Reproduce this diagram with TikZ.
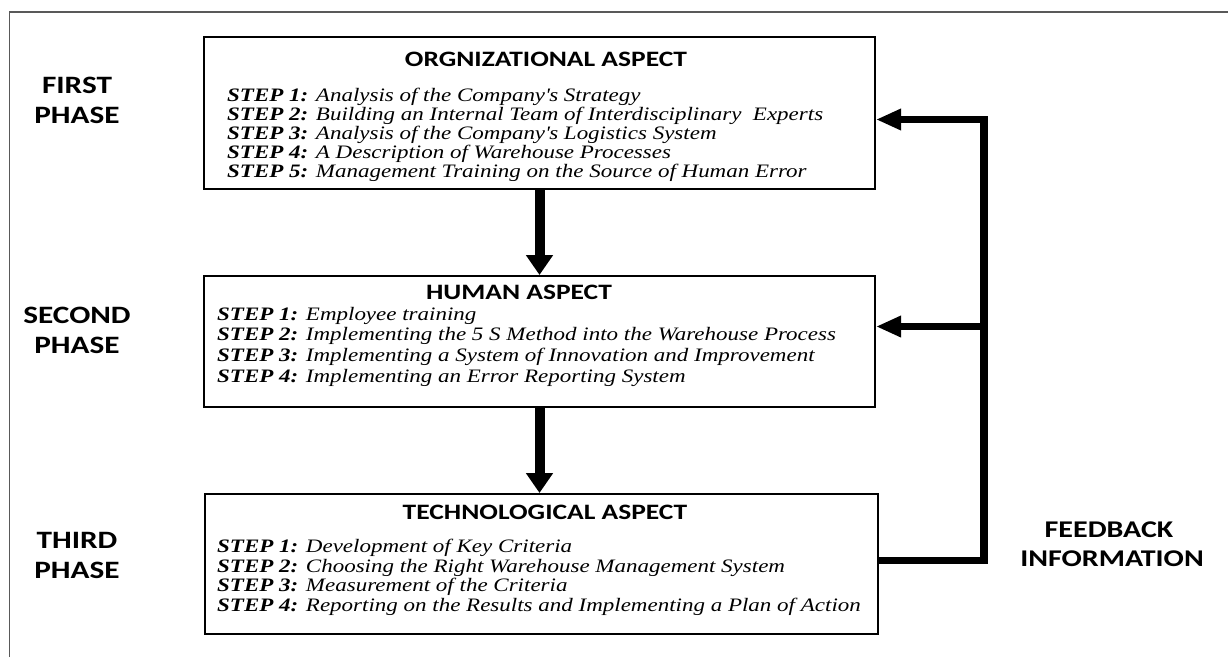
\documentclass[tikz,border=0pt]{standalone}
\usepackage{fontspec}
\setmainfont{Liberation Serif}[FakeStretch=1.21]
\newfontfamily\headfont{Carlito}[FakeStretch=1.25]
\usetikzlibrary{positioning, arrows.meta}

\tikzset{
  aspect/.style={draw=black, line width=2pt, anchor=north west, inner sep=0pt},
  title/.style={anchor=base, inner sep=0pt, font=\headfont\bfseries\fontsize{22}{26}\selectfont},
  stepline/.style={anchor=base west, inner sep=0pt, font=\itshape\fontsize{19}{22}\selectfont},
  phase/.style={anchor=base, inner sep=0pt, font=\headfont\bfseries\fontsize{25}{30}\selectfont},
  flow/.style={line width=10pt, -{Triangle[length=20pt, width=26pt]}},
  feedback/.style={line width=7.5pt, -{Triangle[length=25pt, width=20pt]}},
}

\begin{document}
\begin{tikzpicture}[x=1pt, y=-1pt]
  \useasboundingbox (0,0) rectangle (1228,657);
  % outer frame (open to the right and bottom)
  \draw[black!65, line width=1.6pt] (9.5,657) -- (9.5,12) -- (1228,12);

  % the three aspect boxes
  \node[aspect, minimum width=671pt, minimum height=152pt] (org)   at (203,36)  {};
  \node[aspect, minimum width=671pt, minimum height=131pt] (human) at (203,275) {};
  \node[aspect, minimum width=673pt, minimum height=140pt] (tech)  at (204,493) {};

  \node[title] (org-title)   at (546,66)  {ORGNIZATIONAL ASPECT};
  \node[title] (human-title) at (519,299) {HUMAN ASPECT};
  \node[title] (tech-title)  at (545,519) {TECHNOLOGICAL ASPECT};

  % steps of each phase
  \foreach \yy/\txt [count=\i] in {101/Analysis of the Company\textquotesingle s Strategy,
      120.5/Building an Internal Team of Interdisciplinary\ \ Experts,
      139/Analysis of the Company\textquotesingle s Logistics System,
      158/A Description of Warehouse Processes,
      177/Management Training on the Source of Human Error}
    \node[stepline] (org-\i) at (227,\yy) {\textbf{STEP \i:} \txt};
  \foreach \yy/\txt [count=\i] in {320/Employee training,
      340/Implementing the 5 S Method into the Warehouse Process,
      361/Implementing a System of Innovation and Improvement,
      382/Implementing an Error Reporting System}
    \node[stepline] (human-\i) at (217,\yy) {\textbf{STEP \i:} \txt};
  \foreach \yy/\txt [count=\i] in {552/Development of Key Criteria,
      572/Choosing the Right Warehouse Management System,
      591/Measurement of the Criteria,
      611/Reporting on the Results and Implementing a Plan of Action}
    \node[stepline] (tech-\i) at (217,\yy) {\textbf{STEP \i:} \txt};

  % phase labels
  \foreach \nm/\word/\yy in {first/FIRST/93, second/SECOND/323, third/THIRD/548}{
    \node[phase] (\nm)   at (77,\yy)    {\word};
    \node[phase] (\nm-b) at (77,\yy+30) {PHASE};
  }

  % main flow
  \draw[flow] (org.south) -- (human.north);
  \draw[flow] (human.south) -- (human.south |- tech.north);

  % feedback loop
  \coordinate (fbbot) at (984,560.5);
  \coordinate (fbtop) at (984,119.5);
  \coordinate (fbmid) at (984,326.5);
  \draw[feedback] (fbbot -| tech.east) -- (fbbot) -- (fbtop) -- (fbtop -| org.east);
  \draw[feedback] (fbmid) -- (fbmid -| human.east);
  \node[phase, font=\headfont\bfseries\fontsize{24}{29}\selectfont] (fb)   at (1109,537) {FEEDBACK};
  \node[phase, font=\headfont\bfseries\fontsize{24}{29}\selectfont] (fb-b) at (1112,566) {INFORMATION};
\end{tikzpicture}
\end{document}
